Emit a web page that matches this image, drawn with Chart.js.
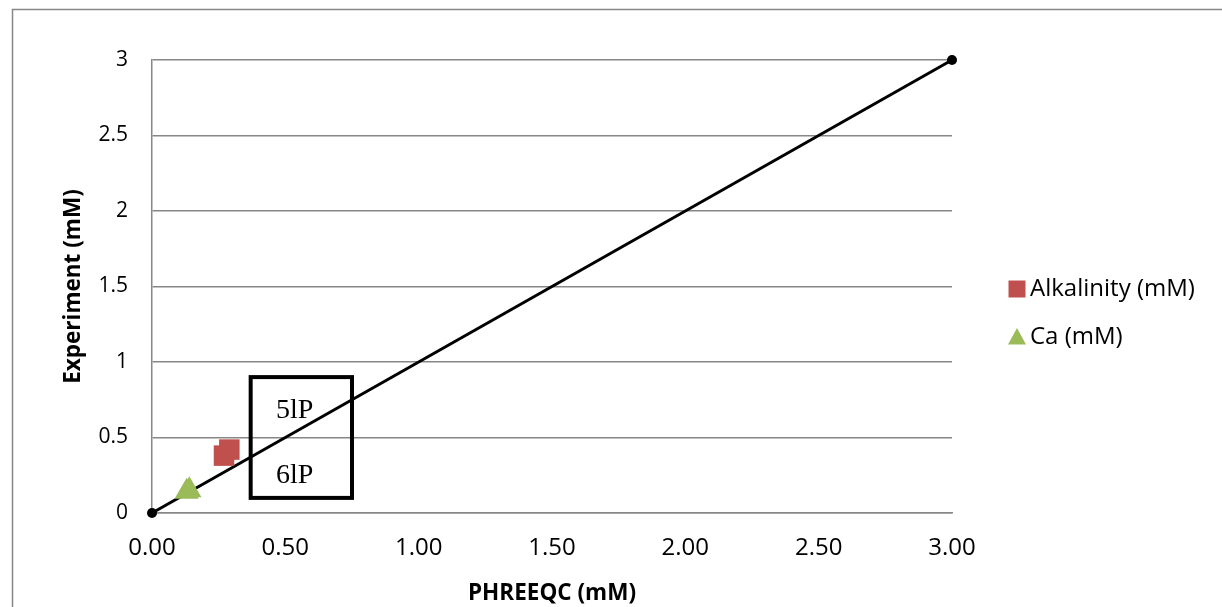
<!DOCTYPE html>
<html>
<head>
<meta charset="utf-8">
<script src="https://cdn.jsdelivr.net/npm/chart.js@4"></script>
<style>
html,body{margin:0;padding:0;background:#fff;}
#wrap{width:1222px;height:607px;position:relative;}
</style>
</head>
<body>
<div id="wrap"><canvas id="c" width="1222" height="607"></canvas></div>
<script>
// ---- data ----
const alkalinityX = [0.27, 0.29];
const alkalinityY = [0.38, 0.42];
const caX = [0.13, 0.14];
const caY = [0.14, 0.15];
const lineX = [0, 3];
const lineY = [0, 3];
const seriesNames = ['Alkalinity (mM)', 'Ca (mM)'];
const xTitle = 'PHREEQC (mM)';
const yTitle = 'Experiment (mM)';
const boxLabels = ['5lP', '6lP'];
const boxRange = { x0: 0.37, x1: 0.75, y0: 0.1, y1: 0.9 };
const boxLabelPos = [{ x: 0.535, y: 0.68 }, { x: 0.535, y: 0.245 }];

const pts = (xs, ys) => xs.map((x, i) => ({ x: x, y: ys[i] }));

const FONT = "'Open Sans', 'Liberation Sans', sans-serif";
const GRID = '#878787';

const framePlugin = {
  id: 'frame',
  beforeDraw(chart) {
    const ctx = chart.ctx;
    ctx.save();
    ctx.fillStyle = '#fff';
    ctx.fillRect(0, 0, chart.width, chart.height);
    ctx.strokeStyle = GRID;
    ctx.lineWidth = 1.5;
    ctx.beginPath();
    ctx.moveTo(12.5, chart.height + 5);
    ctx.lineTo(12.5, 9.5);
    ctx.lineTo(chart.width + 5, 9.5);
    ctx.stroke();
    ctx.restore();
  }
};

const boxPlugin = {
  id: 'box',
  afterDatasetsDraw(chart) {
    const ctx = chart.ctx, xs = chart.scales.x, ys = chart.scales.y;
    const l = xs.getPixelForValue(boxRange.x0), r = xs.getPixelForValue(boxRange.x1);
    const t = ys.getPixelForValue(boxRange.y1), b = ys.getPixelForValue(boxRange.y0);
    ctx.save();
    ctx.strokeStyle = '#000';
    ctx.lineWidth = 4;
    ctx.strokeRect(l, t, r - l, b - t);
    ctx.fillStyle = '#000';
    ctx.font = "28px 'Liberation Serif', 'DejaVu Serif', serif";
    ctx.textAlign = 'center';
    ctx.textBaseline = 'middle';
    boxLabels.forEach((s, i) => {
      ctx.fillText(s, xs.getPixelForValue(boxLabelPos[i].x), ys.getPixelForValue(boxLabelPos[i].y));
    });
    ctx.restore();
  }
};

const legendPlugin = {
  id: 'customLegend',
  afterDraw(chart) {
    const ctx = chart.ctx;
    const x = 1017, ys = [289, 337];
    ctx.save();
    ctx.font = '24px ' + FONT;
    ctx.textBaseline = 'middle';
    ctx.textAlign = 'left';
    [0, 1].forEach(i => {
      const ds = chart.data.datasets[i];
      ctx.fillStyle = ds.backgroundColor;
      ctx.beginPath();
      if (ds.pointStyle === 'rect') {
        ctx.rect(x - 8.5, ys[i] - 8.5, 17, 17);
      } else {
        ctx.moveTo(x, ys[i] - 9);
        ctx.lineTo(x + 9, ys[i] + 7.5);
        ctx.lineTo(x - 9, ys[i] + 7.5);
        ctx.closePath();
      }
      ctx.fill();
      ctx.fillStyle = '#000';
      ctx.fillText(ds.label, x + 13, ys[i]);
    });
    ctx.restore();
  }
};

new Chart(document.getElementById('c'), {
  type: 'scatter',
  data: {
    datasets: [
      {
        label: seriesNames[0],
        data: pts(alkalinityX, alkalinityY),
        pointStyle: 'rect',
        pointRadius: 14.5,
        pointHoverRadius: 14.5,
        backgroundColor: '#C0504D',
        borderColor: '#C0504D',
        borderWidth: 0,
        clip: false
      },
      {
        label: seriesNames[1],
        data: pts(caX, caY),
        pointStyle: 'triangle',
        pointRadius: 14,
        pointHoverRadius: 14,
        backgroundColor: '#9BBB59',
        borderColor: '#9BBB59',
        borderWidth: 0,
        clip: false
      },
      {
        label: 'line',
        data: pts(lineX, lineY),
        showLine: true,
        borderColor: '#000',
        borderWidth: 3,
        pointRadius: 5,
        pointBackgroundColor: '#000',
        pointBorderColor: '#000',
        pointBorderWidth: 0,
        clip: false
      }
    ]
  },
  options: {
    responsive: false,
    animation: false,
    events: [],
    layout: { padding: { left: 12, right: 270, top: 60, bottom: 0 } },
    plugins: { legend: { display: false }, tooltip: { enabled: false } },
    scales: {
      x: {
        type: 'linear',
        min: 0, max: 3,
        afterFit(s) { s.height = 94; },
        ticks: {
          stepSize: 0.5,
          padding: 21,
          color: '#000',
          font: { family: FONT, size: 24 },
          callback: v => Number(v).toFixed(2)
        },
        grid: { display: false, drawTicks: false },
        border: { display: true, color: GRID, width: 1.5 },
        title: {
          display: true,
          text: xTitle,
          color: '#000',
          font: { family: FONT, size: 22.5, weight: 'bold' },
          padding: { top: 10, bottom: 0 }
        }
      },
      y: {
        type: 'linear',
        min: 0, max: 3,
        afterFit(s) { s.width = 140; },
        ticks: {
          stepSize: 0.5,
          padding: 24,
          color: '#000',
          font: { family: FONT, size: 21 },
          callback: v => String(v)
        },
        grid: { display: true, drawTicks: false, color: GRID, lineWidth: 1.5 },
        border: { display: true, color: GRID, width: 1.5 },
        title: {
          display: true,
          text: yTitle,
          color: '#000',
          font: { family: FONT, size: 22.5, weight: 'bold' },
          padding: { top: 48, bottom: 0 }
        }
      }
    }
  },
  plugins: [framePlugin, boxPlugin, legendPlugin]
});
</script>
</body>
</html>
